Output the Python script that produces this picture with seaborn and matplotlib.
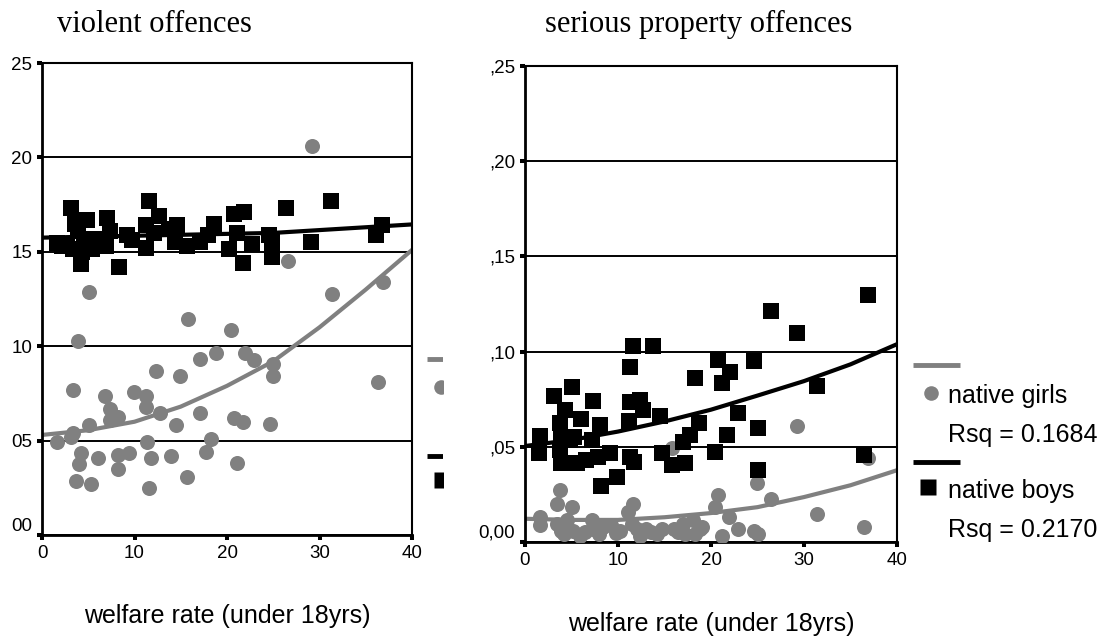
import numpy as np
import pandas as pd
import matplotlib
matplotlib.use("Agg")
import matplotlib.pyplot as plt
import seaborn as sns
from matplotlib.lines import Line2D
from matplotlib.transforms import Bbox, TransformedBbox

# ---------------- data ----------------
# violent offences (left panel)
girls_x_violent = [1.6, 3.3, 3.9, 3.3, 3.1, 4.2, 4.0, 3.7, 5.3, 5.1, 6.0, 6.8, 7.4, 7.3, 8.2,
                   8.2, 8.2, 9.4, 9.9, 11.2, 11.2, 11.4, 11.8, 11.6, 12.3, 12.8, 13.9, 14.5, 14.9,
                   15.7, 15.8, 17.1, 17.1, 17.7, 18.3, 18.8, 20.4, 20.8, 21.7, 21.1, 21.9, 22.9,
                   24.6, 25.0, 25.0, 26.6, 29.2, 31.3, 36.3, 36.9, 5.1]
girls_y_violent = [4.94, 7.69, 10.3, 5.38, 5.2, 4.32, 3.78, 2.86, 2.68, 5.83, 4.1, 7.37, 6.66, 6.1,
                   6.27, 4.23, 3.52, 4.32, 7.55, 7.34, 6.8, 4.94, 4.1, 2.5, 8.7, 6.45, 4.19, 5.83,
                   8.4, 3.07, 11.42, 9.34, 6.45, 4.4, 5.06, 9.64, 10.85, 6.18, 5.97, 3.84, 9.64,
                   9.29, 5.88, 9.08, 8.44, 14.5, 20.63, 12.75, 8.13, 13.4, 12.85]
boys_x_violent = [1.6, 3.1, 3.6, 3.9, 3.4, 4.2, 4.9, 5.0, 5.4, 7.0, 6.9, 7.4, 8.3, 9.2, 9.75,
                  11.2, 11.2, 11.55, 12.1, 12.6, 13.7, 14.6, 14.4, 15.7, 17.1, 17.9, 18.6, 20.2,
                  20.8, 21.1, 21.8, 21.7, 22.7, 24.5, 24.9, 24.9, 26.4, 29.1, 31.2, 36.1, 36.8,
                  2.7, 4.5, 6.1, 4.3, 2.2]
boys_y_violent = [15.49, 17.33, 16.46, 16.1, 15.14, 14.35, 16.7, 15.5, 15.14, 16.8, 15.3, 16.1,
                  14.2, 15.9, 15.6, 16.4, 15.2, 17.7, 16.0, 16.9, 16.2, 16.4, 15.5, 15.3, 15.5,
                  15.9, 16.45, 15.14, 17.0, 16.0, 17.1, 14.4, 15.4, 15.9, 14.7, 15.5, 17.3, 15.5,
                  17.7, 15.9, 16.4, 15.3, 15.7, 15.7, 15.0, 15.3]

# serious property offences (right panel)
girls_x_property = [1.6, 1.6, 3.8, 3.4, 3.4, 3.9, 5.0, 4.5, 5.2, 5.9, 7.2, 7.3, 8.4, 9.3, 10.2,
                    11.1, 11.6, 11.5, 12.0, 12.4, 13.6, 14.7, 15.8, 16.0, 17.0, 17.2, 18.1, 18.8,
                    20.4, 20.8, 21.2, 21.9, 22.9, 24.6, 25.1, 24.9, 26.5, 29.2, 31.4, 36.4, 36.9,
                    4.2, 6.5, 8.0, 9.8, 13.0, 14.2, 16.5, 18.3, 19.0]
girls_y_property = [0.0131, 0.0087, 0.0272, 0.0201, 0.0095, 0.0060, 0.0183, 0.0113, 0.0060,
                    0.0034, 0.0113, 0.0069, 0.0078, 0.0087, 0.0060, 0.0157, 0.0201, 0.0095,
                    0.0069, 0.0034, 0.0051, 0.0069, 0.0492, 0.0069, 0.0095, 0.0042, 0.0113,
                    0.0069, 0.0183, 0.0245, 0.0034, 0.0131, 0.0069, 0.0060, 0.0042, 0.0310,
                    0.0228, 0.0607, 0.0148, 0.0078, 0.0439,
                    0.0040, 0.0050, 0.0040, 0.0045, 0.0070, 0.0040, 0.0050, 0.0040, 0.0080]
boys_x_property = [1.6, 1.5, 3.1, 3.8, 4.3, 3.9, 3.8, 3.9, 4.8, 5.0, 5.3, 5.6, 6.0, 6.6, 7.3,
                   7.2, 8.1, 7.8, 8.2, 9.1, 9.9, 11.2, 11.3, 11.6, 11.3, 11.3, 11.7, 12.4, 12.7,
                   13.8, 14.5, 14.7, 15.8, 17.2, 17.0, 17.7, 18.3, 18.7, 20.4, 20.8, 21.2, 22.0,
                   21.7, 22.9, 24.6, 25.0, 25.0, 26.5, 29.2, 31.4, 36.4, 36.9]
boys_y_property = [0.0557, 0.0469, 0.0769, 0.0624, 0.0695, 0.0554, 0.0483, 0.0413, 0.0536,
                   0.0815, 0.0554, 0.0413, 0.0645, 0.0430, 0.0742, 0.0536, 0.0616, 0.0448,
                   0.0293, 0.0466, 0.0342, 0.0633, 0.0919, 0.1030, 0.0734, 0.0448, 0.0421,
                   0.0748, 0.0695, 0.1030, 0.0660, 0.0466, 0.0404, 0.0413, 0.0527, 0.0563,
                   0.0862, 0.0624, 0.0474, 0.0954, 0.0836, 0.0892, 0.0563, 0.0677, 0.0951,
                   0.0598, 0.0377, 0.1215, 0.1100, 0.0818, 0.0457, 0.1298]

# fitted trend curves
fit_x = [0, 5, 10, 15, 20, 25, 30, 35, 40]
girls_fit_violent = [5.3, 5.55, 6.0, 6.8, 7.9, 9.2, 11.0, 13.0, 15.1]
boys_fit_violent = [15.75, 15.8, 15.85, 15.9, 15.95, 16.0, 16.15, 16.3, 16.45]
girls_fit_property = [0.0122, 0.0116, 0.0116, 0.0130, 0.0152, 0.0183, 0.0236, 0.0298, 0.0377]
boys_fit_property = [0.0504, 0.0536, 0.0580, 0.0633, 0.0695, 0.0769, 0.0845, 0.0933, 0.1039]

# axes / text
x_ticks = [0, 10, 20, 30, 40]
x_ticklabels = ["0", "10", "20", "30", "40"]
y_ticks_violent = [0, 5, 10, 15, 20, 25]
y_ticklabels_violent = ["00", "05", "10", "15", "20", "25"]
y_ticks_property = [0, 0.05, 0.10, 0.15, 0.20, 0.25]
y_ticklabels_property = ["0,00", ",05", ",10", ",15", ",20", ",25"]
titles = ["violent offences", "serious property offences"]
xlabel = "welfare rate (under 18yrs)"
legend_labels = ["native girls", "native boys"]
rsq_labels = ["Rsq = 0.1684", "Rsq = 0.2170"]

GRAY = "#808080"

# ---------------- figure ----------------
sns.set_theme(style="white")
plt.rcParams['font.family'] = ['Liberation Sans', 'DejaVu Sans']

W, H = 1111, 638
fig = plt.figure(figsize=(W / 100, H / 100), dpi=100)
fig.patch.set_facecolor("white")

def px_axes(l, t, r, b):
    return [l / W, 1 - b / H, (r - l) / W, (b - t) / H]

ax1 = fig.add_axes(px_axes(42, 63, 412, 535))
ax2 = fig.add_axes(px_axes(525, 66, 897, 542))


def panel(ax, gx, gy, bx, by, gfit, bfit, yticks, ylabels, ymax):
    sns.lineplot(x=fit_x, y=gfit, ax=ax, color=GRAY, lw=3, zorder=2)
    sns.lineplot(x=fit_x, y=bfit, ax=ax, color="black", lw=3, zorder=2)
    sns.scatterplot(x=gx, y=gy, ax=ax, color=GRAY, marker="o", s=117,
                    linewidth=0, zorder=3)
    sns.scatterplot(x=bx, y=by, ax=ax, color="black", marker="s", s=135,
                    linewidth=0, zorder=4)
    ax.set_xlim(0, 40)
    ax.set_ylim(0, ymax)
    ax.set_xticks(x_ticks)
    ax.set_xticklabels(x_ticklabels)
    ax.set_yticks(yticks)
    ax.set_yticklabels(ylabels)
    ax.get_yticklabels()[0].set_va("bottom")
    ax.set_axisbelow(True)
    ax.yaxis.grid(True, color="black", lw=1.4)
    ax.xaxis.grid(False)
    ax.tick_params(axis="both", which="major", direction="out", length=3.6,
                   width=2.9, color="black", labelsize=13.5, pad=3.5,
                   bottom=True, left=True, labelcolor="black")
    for side, sp in ax.spines.items():
        sp.set_visible(True)
        sp.set_color("black")
        sp.set_linewidth(2.0 if side in ("left", "bottom") else 1.5)
    ax.set_xlabel("")
    ax.set_ylabel("")
    ax.text(0.5, -0.186, xlabel, transform=ax.transAxes, ha="center",
            va="baseline", fontsize=18, color="black")


panel(ax1, girls_x_violent, girls_y_violent, boys_x_violent, boys_y_violent,
      girls_fit_violent, boys_fit_violent, y_ticks_violent, y_ticklabels_violent, 25)
panel(ax2, girls_x_property, girls_y_property, boys_x_property, boys_y_property,
      girls_fit_property, boys_fit_property, y_ticks_property, y_ticklabels_property, 0.25)


def draw_legend(ax, with_text, line_x0, circle_x, square_x, clip=None):
    arts = []
    arts.append(Line2D([line_x0, line_x0 + 0.126], [0.372, 0.372], transform=ax.transAxes,
                       color=GRAY, lw=3.5, solid_capstyle="butt"))
    arts.append(Line2D([circle_x], [0.313], transform=ax.transAxes, marker="o",
                       ms=10.5, color=GRAY, mec="none", ls="none"))
    arts.append(Line2D([line_x0, line_x0 + 0.126], [0.168, 0.168], transform=ax.transAxes,
                       color="black", lw=3.5, solid_capstyle="butt"))
    arts.append(Line2D([square_x], [0.1155], transform=ax.transAxes, marker="s",
                       ms=11, color="black", mec="none", ls="none"))
    for a in arts:
        ax.add_artist(a)
        if clip is not None:
            a.set_clip_on(True)
            a.set_clip_box(clip)
        else:
            a.set_clip_on(False)
    if with_text:
        kw = dict(transform=ax.transAxes, ha="left", va="baseline",
                  fontsize=18, color="black", clip_on=False)
        ax.text(1.137, 0.292, legend_labels[0], **kw)
        ax.text(1.137, 0.210, rsq_labels[0], **kw)
        ax.text(1.137, 0.0924, legend_labels[1], **kw)
        ax.text(1.137, 0.0105, rsq_labels[1], **kw)


clipbox = TransformedBbox(Bbox([[0, 0], [443 / W, 1]]), fig.transFigure)
draw_legend(ax1, False, 1.041, 1.078, 1.080, clip=clipbox)
draw_legend(ax2, True, 1.043, 1.091, 1.083)

# titles
fig.text(57 / W, 1 - 32 / H, titles[0], family=["Liberation Serif", "DejaVu Serif"],
         fontsize=22, ha="left", va="baseline", color="black")
fig.text(545 / W, 1 - 32 / H, titles[1], family=["Liberation Serif", "DejaVu Serif"],
         fontsize=22, ha="left", va="baseline", color="black")

fig.savefig("out.png", dpi=100, facecolor="white")
